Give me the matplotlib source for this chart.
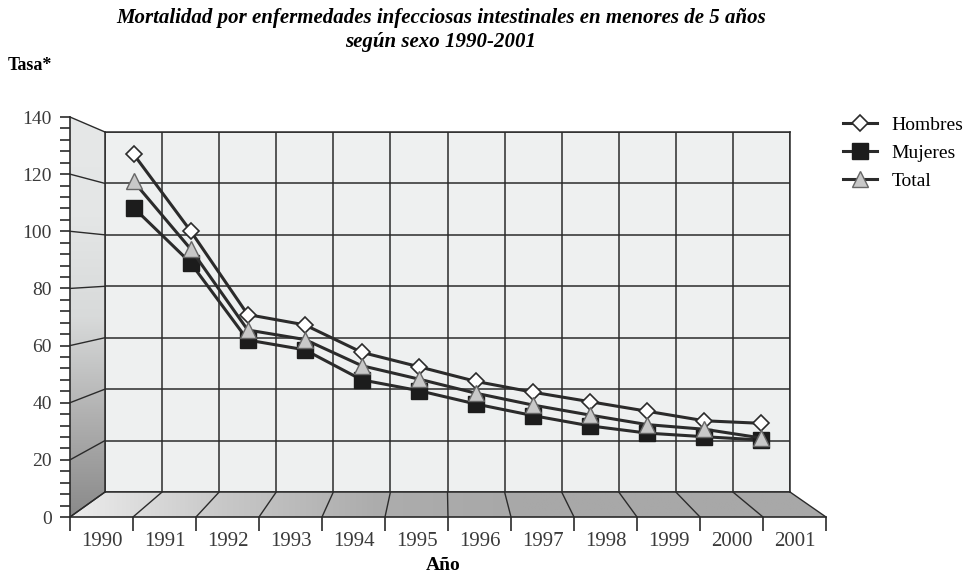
import numpy as np
import matplotlib.pyplot as plt
from matplotlib.patches import Polygon
from matplotlib.colors import LinearSegmentedColormap
from matplotlib.ticker import MultipleLocator

# data (tasa)
years = ['1990', '1991', '1992', '1993', '1994', '1995',
         '1996', '1997', '1998', '1999', '2000', '2001']
hombres = [131.4, 101.5, 69.0, 65.0, 54.3, 48.7, 43.0, 38.8, 35.1, 31.4, 27.7, 26.7]
mujeres = [110.6, 89.1, 59.1, 55.3, 43.6, 39.4, 34.2, 29.7, 25.7, 22.9, 21.5, 20.2]
total = [120.8, 94.5, 63.0, 59.3, 49.1, 43.9, 38.4, 33.8, 29.9, 26.2, 24.4, 21.0]

plt.rcParams['font.family'] = ['Liberation Serif', 'DejaVu Serif']

W, H = 973, 578
fig = plt.figure(figsize=(W / 100, H / 100), dpi=100)
fig.patch.set_facecolor('white')


def box(x0, y0, x1, y1):
    # pixel box (y down) -> figure fraction rect
    return [x0 / W, 1 - y1 / H, (x1 - x0) / W, (y1 - y0) / H]


line_col = '#2b2b2b'
n = len(years)

# a. front axes (carries the axis ticks and the 3d walls)
axf = fig.add_axes(box(70, 117, 826, 517), zorder=0)
# b. back wall axes (grid and data)
ax = fig.add_axes(box(105, 132, 790, 492), zorder=1)

for a in (ax, axf):
    a.set_xlim(-0.5, n - 0.5)
    a.set_ylim(0, 140)

# back wall
ax.set_facecolor('#eef0f0')
ax.set_xticks(np.arange(n + 1) - 0.5)
ax.set_yticks(range(0, 141, 20))
ax.grid(True, color=line_col, lw=1.1)
ax.tick_params(length=0, labelbottom=False, labelleft=False)
for sp in ax.spines.values():
    sp.set_color(line_col)
    sp.set_linewidth(1.1)


def to_front(x, y):
    pts = ax.transData.transform(np.column_stack([x, y]))
    return axf.transData.inverted().transform(pts)


# c. left wall and floor with gradients
wall_pts = np.vstack([[[-0.5, 0], [-0.5, 140]], to_front([-0.5, -0.5], [140, 0])])
floor_pts = np.vstack([[[-0.5, 0], [n - 0.5, 0]], to_front([n - 0.5, -0.5], [0, 0])])

wall = Polygon(wall_pts, closed=True, fc='none', ec='none', transform=axf.transData)
floor = Polygon(floor_pts, closed=True, fc='none', ec='none', transform=axf.transData)
axf.add_patch(wall)
axf.add_patch(floor)

wall_cmap = LinearSegmentedColormap.from_list('wall', ['#8a8a8a', '#b0b0b0', '#d8dada', '#e4e6e6', '#e6e8e8'])
grad_v = np.linspace(0, 1, 256).reshape(-1, 1)
im1 = axf.imshow(grad_v, cmap=wall_cmap, origin='lower', aspect='auto',
                 extent=(-0.5, 0.3, 0, 140), zorder=0)
im1.set_clip_path(wall)

floor_cmap = LinearSegmentedColormap.from_list('floor', ['#ececec', '#c8c8c8', '#adadad', '#a8a8a8', '#a8a8a8', '#a8a8a8'])
grad_h = np.linspace(0, 1, 256).reshape(1, -1)
im2 = axf.imshow(grad_h, cmap=floor_cmap, origin='lower', aspect='auto',
                 extent=(-0.5, n - 0.5, -1, 12), zorder=0)
im2.set_clip_path(floor)

# depth lines on the wall and the floor
for v in range(0, 141, 20):
    p = to_front([-0.5], [v])[0]
    axf.plot([-0.5, p[0]], [v, p[1]], color=line_col, lw=1, clip_on=False, zorder=1)
for b in np.arange(n + 1) - 0.5:
    p = to_front([b], [0])[0]
    axf.plot([b, p[0]], [0, p[1]], color=line_col, lw=1, clip_on=False, zorder=1)

axf.set_xlim(-0.5, n - 0.5)
axf.set_ylim(0, 140)

# front axis ticks
axf.patch.set_visible(False)
axf.spines['top'].set_visible(False)
axf.spines['right'].set_visible(False)
for s in ('left', 'bottom'):
    axf.spines[s].set_color(line_col)
    axf.spines[s].set_linewidth(1.2)

axf.yaxis.set_major_locator(MultipleLocator(20))
axf.yaxis.set_minor_locator(MultipleLocator(4))
axf.tick_params(axis='y', which='both', direction='out', length=7, width=1.2,
                color=line_col, labelsize=14, labelcolor='#3a3a3a', pad=6)
axf.set_xticks(range(n))
axf.set_xticklabels(years)
axf.set_xticks(np.arange(n + 1) - 0.5, minor=True)
axf.tick_params(axis='x', which='major', length=0, labelsize=15, labelcolor='#3a3a3a', pad=11)
axf.tick_params(axis='x', which='minor', direction='out', length=10, width=1.2, color=line_col)

# d. series
x = np.arange(n)
ax.plot(x, hombres, color=line_col, lw=2.2, marker='D', ms=8.5, mfc='white',
        mec=line_col, mew=1.2, label='Hombres', clip_on=False, zorder=3)
ax.plot(x, mujeres, color=line_col, lw=2.2, marker='s', ms=11, mfc='#1c1c1c',
        mec='#1c1c1c', label='Mujeres', clip_on=False, zorder=3)
ax.plot(x, total, color=line_col, lw=2.2, marker='^', ms=11.5, mfc='#c8c8c8',
        mec='#666666', mew=1, label='Total', clip_on=False, zorder=3)

fig.legend(loc='upper left', bbox_to_anchor=(843 / W, 1 - 116 / H), frameon=False,
           borderpad=0, handlelength=1.75, handletextpad=0.75, labelspacing=0.55,
           prop={'size': 14}, borderaxespad=0)

# e. texts
fig.text(441 / W, 1 - 18 / H,
         'Mortalidad por enfermedades infecciosas intestinales en menores de 5 años',
         ha='center', va='center', style='italic', weight='bold', size=15)
fig.text(441 / W, 1 - 42 / H, 'según sexo 1990-2001',
         ha='center', va='center', style='italic', weight='bold', size=15)
fig.text(8 / W, 1 - 65 / H, 'Tasa*', ha='left', va='center', weight='bold', size=13)
fig.text(443 / W, 1 - 566 / H, 'Año', ha='center', va='center', weight='bold', size=14)

fig.savefig('out.png', dpi=100)
